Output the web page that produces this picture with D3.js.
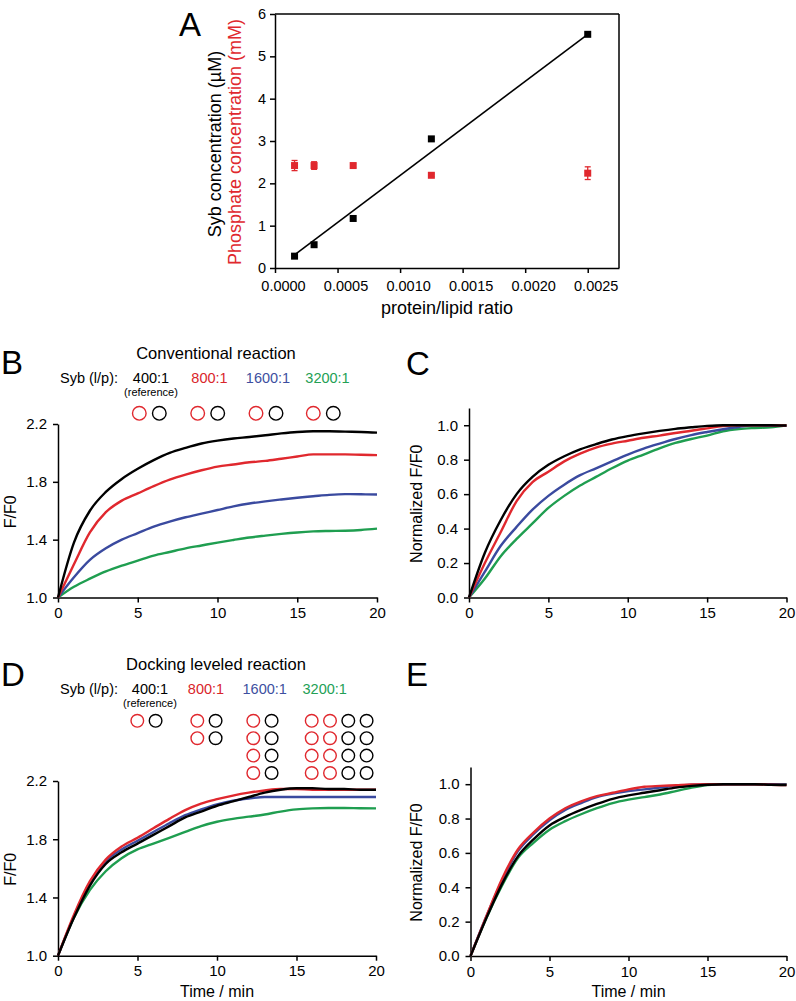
<!DOCTYPE html>
<html>
<head>
<meta charset="utf-8">
<script src="https://cdn.jsdelivr.net/npm/d3@7"></script>
<style>
  body { margin: 0; background: #fff; }
  svg { display: block; font-family: "Liberation Sans", Arial, Helvetica, sans-serif; }
</style>
</head>
<body>
<svg id="fig" width="796" height="1001"></svg>
<script>
// ---- panel A data ----
const ratio = [1/6400, 1/3200, 1/1600, 1/800, 1/400];
const sybConc = [0.28, 0.55, 1.17, 3.05, 5.52];
const phosConc = [2.42, 2.42, 2.42, 2.19, 2.24];
const phosErr = [0.12, 0.09, 0.04, 0.03, 0.15];
const fitLine = [[1/6400, 0.31], [1/400, 5.52]];
const ratioTicks = [0, 0.0005, 0.001, 0.0015, 0.002, 0.0025];
const concTicks = [0, 1, 2, 3, 4, 5, 6];

// ---- kinetics data (B–E) ----
const timeMin = [0,1,2,3,4,5,6,7,8,9,10,11,12,13,14,15,16,17,18,19,20];
const conditions = ["400:1", "800:1", "1600:1", "3200:1"];
const convF = {
  "400:1":  [1.0,1.38,1.60,1.73,1.82,1.89,1.95,2.0,2.035,2.065,2.085,2.10,2.11,2.122,2.135,2.145,2.15,2.15,2.147,2.145,2.14],
  "800:1":  [1.0,1.23,1.45,1.59,1.67,1.72,1.77,1.815,1.85,1.88,1.905,1.92,1.935,1.945,1.96,1.975,1.99,1.99,1.99,1.987,1.985],
  "1600:1": [1.0,1.14,1.26,1.34,1.40,1.445,1.49,1.525,1.555,1.58,1.605,1.63,1.65,1.665,1.678,1.69,1.70,1.71,1.715,1.714,1.712],
  "3200:1": [1.0,1.074,1.13,1.18,1.22,1.255,1.29,1.315,1.34,1.36,1.38,1.398,1.415,1.428,1.44,1.45,1.457,1.46,1.462,1.467,1.476]
};
const convNorm = {
  "400:1":  [0,0.26,0.45,0.60,0.70,0.77,0.82,0.86,0.89,0.917,0.937,0.953,0.967,0.979,0.988,0.996,1.0,1.0,1.0,1.0,0.998],
  "800:1":  [0,0.20,0.38,0.56,0.67,0.73,0.79,0.835,0.87,0.893,0.91,0.927,0.94,0.955,0.968,0.982,0.995,1.0,1.0,1.0,0.998],
  "1600:1": [0,0.15,0.30,0.41,0.51,0.59,0.655,0.71,0.75,0.79,0.83,0.864,0.893,0.92,0.943,0.961,0.977,0.99,1.0,0.996,0.996],
  "3200:1": [0,0.11,0.24,0.34,0.43,0.52,0.59,0.65,0.70,0.75,0.795,0.83,0.866,0.897,0.92,0.94,0.965,0.978,0.984,0.988,1.0]
};
const dockF = {
  "400:1":  [1.0,1.26,1.48,1.63,1.71,1.77,1.83,1.89,1.95,1.99,2.03,2.06,2.09,2.12,2.14,2.15,2.15,2.145,2.145,2.14,2.14],
  "800:1":  [1.0,1.28,1.51,1.66,1.75,1.81,1.875,1.94,2.0,2.045,2.075,2.10,2.12,2.135,2.145,2.145,2.14,2.14,2.14,2.14,2.14],
  "1600:1": [1.0,1.27,1.50,1.65,1.73,1.79,1.85,1.91,1.965,2.005,2.04,2.065,2.08,2.09,2.09,2.09,2.09,2.09,2.09,2.09,2.09],
  "3200:1": [1.0,1.26,1.45,1.58,1.67,1.73,1.77,1.81,1.85,1.89,1.92,1.94,1.955,1.97,1.99,2.005,2.012,2.015,2.015,2.013,2.012]
};
const dockNorm = {
  "400:1":  [0,0.22,0.42,0.58,0.68,0.76,0.81,0.85,0.885,0.915,0.935,0.95,0.965,0.98,0.99,0.997,1.0,1.0,1.0,0.997,0.995],
  "800:1":  [0,0.23,0.45,0.62,0.72,0.80,0.86,0.90,0.93,0.95,0.97,0.985,0.99,0.994,0.998,1.0,1.0,1.0,1.0,0.997,0.995],
  "1600:1": [0,0.23,0.44,0.61,0.71,0.79,0.85,0.89,0.925,0.945,0.96,0.97,0.98,0.99,0.997,1.0,1.0,1.0,1.0,1.0,0.998],
  "3200:1": [0,0.22,0.41,0.57,0.66,0.735,0.785,0.825,0.86,0.89,0.91,0.925,0.94,0.96,0.98,0.995,1.0,1.0,1.0,1.0,1.0]
};
// vesicle cartoon: rows, red columns, black columns per condition
const convRows = [1, 1, 1, 1], convRedCols = [1, 1, 1, 1], convBlackCols = [1, 1, 1, 1];
const dockRows = [1, 2, 4, 4], dockRedCols = [1, 1, 1, 2], dockBlackCols = [1, 1, 1, 2];

const lineColor = {"400:1": "#000000", "800:1": "#e0282e", "1600:1": "#3a4a9f", "3200:1": "#1f9e50"};
const textColor = {"400:1": "#000000", "800:1": "#d9252b", "1600:1": "#3d4fa0", "3200:1": "#23a055"};
const RED = "#e0282e";

const svg = d3.select("#fig");

function styleAxis(g, fs) {
  g.selectAll("path, line").attr("stroke", "#000").attr("stroke-width", 1.5);
  g.selectAll("text").attr("fill", "#000").style("font-size", fs + "px");
}

function letter(t, x, y) {
  svg.append("text").attr("x", x).attr("y", y).style("font-size", "33px").text(t);
}

// ================= Panel A =================
(function() {
  const x = d3.scaleLinear([0, 0.00275], [275, 619]);
  const y = d3.scaleLinear([0, 6], [268, 14]);
  const g = svg.append("g");

  g.append("line").attr("x1", x(0)).attr("x2", x(0.00275)).attr("y1", y(6)).attr("y2", y(6))
    .attr("stroke", "#000").attr("stroke-width", 1.5);
  g.append("line").attr("x1", x(0.00275)).attr("x2", x(0.00275)).attr("y1", y(6)).attr("y2", y(0))
    .attr("stroke", "#000").attr("stroke-width", 1.5);

  g.append("g").attr("transform", `translate(0,${y(0)})`)
    .call(d3.axisBottom(x).tickValues(ratioTicks).tickFormat(d3.format(".4f")).tickSize(5).tickSizeOuter(0).tickPadding(8))
    .call(a => styleAxis(a, 14.5))
    .call(a => a.selectAll("text").attr("dx", 8));
  g.append("g").attr("transform", `translate(${x(0)},0)`)
    .call(d3.axisLeft(y).tickValues(concTicks).tickFormat(d3.format("d")).tickSize(5).tickSizeOuter(0).tickPadding(4))
    .call(a => styleAxis(a, 14.5));

  g.append("path").datum(fitLine)
    .attr("fill", "none").attr("stroke", "#000").attr("stroke-width", 1.6)
    .attr("d", d3.line().x(d => x(d[0])).y(d => y(d[1])));

  const pts = ratio.map((r, i) => ({r, s: sybConc[i], p: phosConc[i], e: phosErr[i]}));
  const eb = g.append("g").attr("stroke", RED).attr("stroke-width", 1.3);
  pts.forEach(d => {
    eb.append("line").attr("x1", x(d.r)).attr("x2", x(d.r)).attr("y1", y(d.p - d.e)).attr("y2", y(d.p + d.e));
    [d.p - d.e, d.p + d.e].forEach(v => eb.append("line")
      .attr("x1", x(d.r) - 3).attr("x2", x(d.r) + 3).attr("y1", y(v)).attr("y2", y(v)));
  });
  g.append("g").selectAll("rect").data(pts).join("rect")
    .attr("x", d => x(d.r) - 3.5).attr("y", d => y(d.p) - 3.5).attr("width", 7).attr("height", 7).attr("fill", RED);
  g.append("g").selectAll("rect").data(pts).join("rect")
    .attr("x", d => x(d.r) - 3.5).attr("y", d => y(d.s) - 3.5).attr("width", 7).attr("height", 7).attr("fill", "#000");

  g.append("text").attr("transform", "translate(221,144) rotate(-90)").attr("text-anchor", "middle")
    .style("font-size", "18px").text("Syb concentration (µM)");
  g.append("text").attr("transform", "translate(240.5,142) rotate(-90)").attr("text-anchor", "middle")
    .style("font-size", "18px").attr("fill", RED).text("Phosphate concentration (mM)");
  g.append("text").attr("x", 447).attr("y", 314).attr("text-anchor", "middle")
    .style("font-size", "18px").text("protein/lipid ratio");
  letter("A", 179, 36);
})();

// ================= kinetics panels =================
function kineticsPanel(cfg) {
  const x = d3.scaleLinear([0, 20], [cfg.x0, cfg.x1]);
  const y = d3.scaleLinear(cfg.yDomain, [cfg.yBottom, cfg.yTop]);
  const g = svg.append("g");

  g.append("g").attr("transform", `translate(0,${cfg.yBottom})`)
    .call(d3.axisBottom(x).tickValues([0, 5, 10, 15, 20]).tickSize(5).tickSizeOuter(0).tickPadding(5))
    .call(a => styleAxis(a, 15));
  g.append("g").attr("transform", `translate(${cfg.x0},0)`)
    .call(d3.axisLeft(y).tickValues(cfg.yTicks).tickFormat(d3.format(".1f")).tickSize(5).tickSizeOuter(0).tickPadding(6))
    .call(a => styleAxis(a, 15));

  const line = d3.line().curve(d3.curveMonotoneX).x((d, i) => x(timeMin[i])).y(d => y(d));
  g.append("g").attr("fill", "none").attr("stroke-width", 2.4).attr("stroke-linejoin", "round")
    .selectAll("path").data(conditions.slice().reverse()).join("path")
    .attr("stroke", c => lineColor[c])
    .attr("d", c => line(cfg.data[c]));

  g.append("text").attr("transform", `translate(${cfg.ylabelX},${(cfg.yBottom + cfg.yTop) / 2 + 1}) rotate(-90)`)
    .attr("text-anchor", "middle").attr("dy", "0.35em").style("font-size", "16px").text(cfg.ylabel);
  if (cfg.xlabel) {
    g.append("text").attr("x", (cfg.x0 + cfg.x1) / 2).attr("y", cfg.yBottom + 41)
      .attr("text-anchor", "middle").style("font-size", "16px").text(cfg.xlabel);
  }
}

function header(cfg) {
  const g = svg.append("g");
  g.append("text").attr("x", 216).attr("y", cfg.titleY).attr("text-anchor", "middle")
    .style("font-size", "16.5px").text(cfg.title);
  g.append("text").attr("x", 60).attr("y", cfg.labelY).style("font-size", "14.5px").text("Syb (l/p):");
  conditions.forEach((c, i) => {
    g.append("text").attr("x", cfg.labelX[i]).attr("y", cfg.labelY).attr("text-anchor", "middle")
      .attr("fill", textColor[c]).style("font-size", "14.5px").text(c);
  });
  g.append("text").attr("x", cfg.labelX[0]).attr("y", cfg.labelY + 13.3).attr("text-anchor", "middle")
    .style("font-size", "11px").text("(reference)");
  const circ = g.append("g").attr("fill", "none").attr("stroke-width", 1.4);
  conditions.forEach((c, i) => {
    for (let r = 0; r < cfg.rows[i]; r++) {
      const cols = cfg.redCols[i] + cfg.blackCols[i];
      for (let k = 0; k < cols; k++) {
        circ.append("circle")
          .attr("cx", cfg.groupX[i] + k * cfg.step)
          .attr("cy", cfg.rowY + r * cfg.rowStep)
          .attr("r", cfg.r)
          .attr("stroke", k < cfg.redCols[i] ? RED : "#000");
      }
    }
  });
}

// B
header({title: "Conventional reaction", titleY: 358.5, labelY: 382.5,
  labelX: [151, 209.5, 268, 327.5], groupX: [139.3, 197.7, 256, 313.3], step: 20, r: 6.8,
  rowY: 413.3, rowStep: 17.4, rows: convRows, redCols: convRedCols, blackCols: convBlackCols});
kineticsPanel({x0: 58, x1: 377, yBottom: 597.5, yTop: 424, yDomain: [1.0, 2.2], yTicks: [1.0, 1.4, 1.8, 2.2],
  data: convF, ylabel: "F/F0", ylabelX: 10});
letter("B", 1, 374);

// C
kineticsPanel({x0: 469, x1: 786.5, yBottom: 597.5, yTop: 408, yDomain: [0, 1.1], yTicks: [0, 0.2, 0.4, 0.6, 0.8, 1.0],
  data: convNorm, ylabel: "Normalized F/F0", ylabelX: 416});
letter("C", 406, 375);

// D
header({title: "Docking leveled reaction", titleY: 670, labelY: 694,
  labelX: [150, 206, 264.7, 324.7], groupX: [137.3, 197.3, 253.3, 311.7], step: 18.3, r: 6.3,
  rowY: 720.8, rowStep: 17.4, rows: dockRows, redCols: dockRedCols, blackCols: dockBlackCols});
kineticsPanel({x0: 58, x1: 376, yBottom: 955.7, yTop: 781, yDomain: [1.0, 2.2], yTicks: [1.0, 1.4, 1.8, 2.2],
  data: dockF, ylabel: "F/F0", ylabelX: 10, xlabel: "Time / min"});
letter("D", 1, 686);

// E
kineticsPanel({x0: 470.5, x1: 786.5, yBottom: 956, yTop: 767, yDomain: [0, 1.1], yTicks: [0, 0.2, 0.4, 0.6, 0.8, 1.0],
  data: dockNorm, ylabel: "Normalized F/F0", ylabelX: 416, xlabel: "Time / min"});
letter("E", 406, 686);
</script>
</body>
</html>
